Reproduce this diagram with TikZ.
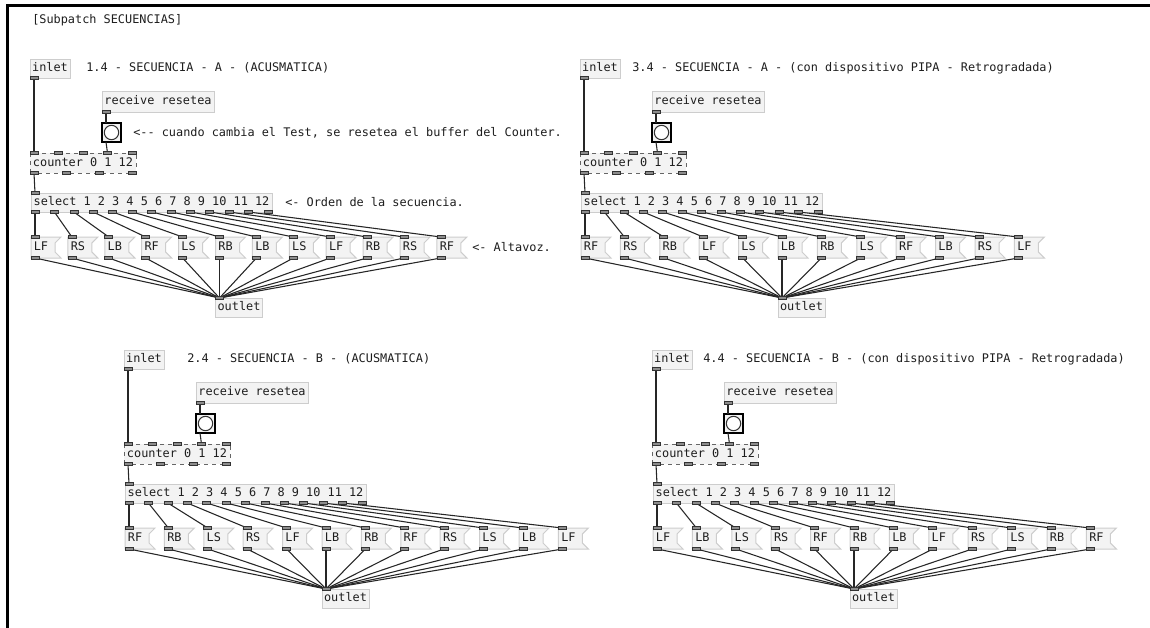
\documentclass[tikz,border=0pt]{standalone}
\usepackage{fontspec}
\newfontfamily\pdfont{DejaVu Sans Mono}
\usetikzlibrary{calc}
\def\u{0.75pt}
\definecolor{boxfill}{HTML}{F3F3F3}
\definecolor{boxline}{HTML}{CDCDCD}
\definecolor{nubfill}{HTML}{8C8C8C}
\definecolor{txtcol}{HTML}{1E1E1E}
\tikzset{
 pdtext/.style={font=\pdfont\fontsize{8.9}{10}\selectfont, text=txtcol, inner sep=0pt, text height=6.5pt, text depth=1.8pt},
 obj/.style={pdtext, draw=boxline, fill=boxfill, line width=0.75pt, anchor=north west, inner xsep=1pt, outer sep=0pt},
 brokenobj/.style={obj, draw=black!60, dash pattern=on 3pt off 3pt},
 msgshape/.style={draw=boxline, fill=boxfill, line width=0.75pt, line join=miter},
 msg/.style={pdtext, anchor=north west, outer sep=0pt},
 comment/.style={pdtext, anchor=west},
 bangbox/.style={draw=black, line width=1.5pt, fill=boxfill, anchor=north west, inner sep=0pt, outer sep=0pt},
 bangcirc/.style={draw=black!80, line width=0.8pt, fill=white},
 conn/.style={draw=black!85, line width=0.8pt},
 nub/.style={draw=black!80, fill=nubfill, line width=0.5pt},
 frame/.style={draw=black, line width=2.25pt},
}
\newcommand\drawnub[1]{\draw[nub] ($(#1)+(-4,-1.5)$) rectangle ($(#1)+(4,1.5)$);}
% #1 prefix, #2 x, #3 y, #4 msg spacing, #5 labels, #6 title x, #7 title
\newcommand\pdpanel[7]{%
 \node[obj, minimum width=40*\u, minimum height=19*\u] (#1in) at (#2,#3) {inlet};
 \node[comment] (#1title) at (#6,#3+9.5) {#7};
 \node[obj, minimum width=112*\u, minimum height=21*\u] (#1recv) at (#2+72,#3+32) {receive resetea};
 \node[bangbox, minimum size=19*\u] (#1bang) at (#2+72,#3+64) {};
 \draw[bangcirc] (#1bang.center) circle[radius=5.4pt];
 \node[brokenobj, minimum width=106*\u, minimum height=20*\u] (#1ctr) at (#2,#3+94) {counter 0 1 12};
 \node[obj, minimum width=241*\u, minimum height=19*\u] (#1sel) at (#2+1,#3+134) {select 1 2 3 4 5 6 7 8 9 10 11 12};
 \foreach \lab [count=\i from 0] in {#5}{%
   \pgfmathsetmacro\mL{#2+1+\i*#4}%
   \pgfmathsetmacro\mT{#3+178}%
   \filldraw[msgshape] (\mL,\mT) -- (\mL+30,\mT) -- (\mL+24,\mT+6) -- (\mL+24,\mT+15) -- (\mL+30,\mT+21) -- (\mL,\mT+21) -- cycle;
   \node[msg, minimum width=20*\u, minimum height=21*\u] (#1m\i) at (\mL,\mT) {\lab};
   \coordinate (#1m\i-i) at ($(#1m\i.north west)+(4,0)$);
   \coordinate (#1m\i-o) at ($(#1m\i.south west)+(4,0)$);
 }
 \node[obj, minimum width=47*\u, minimum height=19*\u] (#1out) at ({#2+1+5*#4},#3+239) {outlet};
 % nub coordinates
 \coordinate (#1in-o) at ($(#1in.south west)+(4,0)$);
 \coordinate (#1recv-o) at ($(#1recv.south west)+(4,0)$);
 \coordinate (#1bang-i) at ($(#1bang.north west)+(4,0)$);
 \coordinate (#1bang-o) at ($(#1bang.south west)+(4,0)$);
 \foreach \i in {0,...,4}{\coordinate (#1ctr-i\i) at ($(#1ctr.north west)+({4+\i*24.5},0)$);}
 \foreach \i in {0,...,3}{\coordinate (#1ctr-o\i) at ($(#1ctr.south west)+({4+\i*32.667},0)$);}
 \coordinate (#1sel-i) at ($(#1sel.north west)+(4,0)$);
 \foreach \i in {0,...,12}{\coordinate (#1sel-o\i) at ($(#1sel.south west)+({4+\i*19.4167},0)$);}
 \coordinate (#1out-i) at ($(#1out.north west)+(4,0)$);
 % connections
 \draw[conn] (#1in-o) -- (#1ctr-i0);
 \draw[conn] (#1recv-o) -- (#1bang-i);
 \draw[conn] (#1bang-o) -- (#1ctr-i3);
 \draw[conn] (#1ctr-o0) -- (#1sel-i);
 \foreach \i in {0,...,11}{\draw[conn] (#1sel-o\i) -- (#1m\i-i);}
 \foreach \i in {0,...,11}{\draw[conn] (#1m\i-o) -- (#1out-i);}
 % nubs
 \drawnub{#1in-o}\drawnub{#1recv-o}
 \foreach \i in {0,...,4}{\drawnub{#1ctr-i\i}}
 \foreach \i in {0,...,3}{\drawnub{#1ctr-o\i}}
 \drawnub{#1sel-i}
 \foreach \i in {0,...,12}{\drawnub{#1sel-o\i}}
 \foreach \i in {0,...,11}{\drawnub{#1m\i-i}\drawnub{#1m\i-o}}
 \drawnub{#1out-i}
}
\begin{document}
\begin{tikzpicture}[x=0.75pt,y=-0.75pt]
\useasboundingbox (0,0) rectangle (1150,628);
\fill[white] (0,0) rectangle (1150,628);
\coordinate (frameTL) at (7,5);
\coordinate (frameTR) at (1150,5);
\coordinate (frameBL) at (7,628);
\draw[frame] (frameTR) -- (frameTL) -- (frameBL);
\node[comment] (subpatch) at (32,20) {[Subpatch SECUENCIAS]};
\pdpanel{a}{30}{59}{36.9}{LF,RS,LB,RF,LS,RB,LB,LS,LF,RB,RS,RF}{86}{1.4 - SECUENCIA - A - (ACUSMATICA)}
\pdpanel{b}{580}{59}{39.4}{RF,RS,RB,LF,LS,LB,RB,LS,RF,LB,RS,LF}{632}{3.4 - SECUENCIA - A - (con dispositivo PIPA - Retrogradada)}
\pdpanel{c}{124}{350}{39.4}{RF,RB,LS,RS,LF,LB,RB,RF,RS,LS,LB,LF}{187}{2.4 - SECUENCIA - B - (ACUSMATICA)}
\pdpanel{d}{652}{350}{39.4}{LF,LB,LS,RS,RF,RB,LB,LF,RS,LS,RB,RF}{703}{4.4 - SECUENCIA - B - (con dispositivo PIPA - Retrogradada)}
\node[comment] (cmtbang) at (133,133) {<-{}- cuando cambia el Test, se resetea el buffer del Counter.};
\node[comment] (cmtorden) at (285,203) {<- Orden de la secuencia.};
\node[comment] (cmtalt) at (472,248) {<- Altavoz.};
\end{tikzpicture}
\end{document}
